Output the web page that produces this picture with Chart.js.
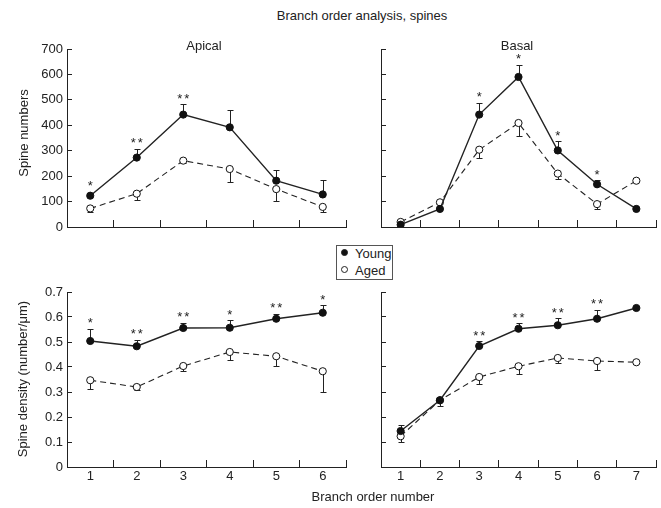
<!DOCTYPE html>
<html>
<head>
<meta charset="utf-8">
<script src="https://cdn.jsdelivr.net/npm/chart.js@4.4.1/dist/chart.umd.min.js"></script>
<style>
    html, body { margin: 0; padding: 0; background: #fff; overflow: hidden; }
    #page { position: relative; width: 661px; height: 508px; font-family: "Liberation Sans", Arial, sans-serif; color: #222; }
    #page canvas { position: absolute; }
    .lbl { position: absolute; font-size: 13px; line-height: 1; white-space: nowrap; transform: translate(-50%, -50%); }
    .rot { transform: translate(-50%, -50%) rotate(-90deg); }
    #legend { position: absolute; left: 336px; top: 245px; width: 55px; height: 33px; border: 1px solid #555; background: #fff; font-size: 13px; }
    #legend .item { position: absolute; left: 18px; line-height: 1; }
    #legend .dot { position: absolute; left: 4px; width: 5px; height: 5px; border: 1px solid #222; border-radius: 50%; }
</style>
</head>
<body>
<div id="page">
    <canvas id="apicalNum" width="352" height="197" style="left:0;top:40px"></canvas>
    <canvas id="basalNum" width="347" height="197" style="left:314px;top:40px"></canvas>
    <canvas id="apicalDen" width="352" height="205" style="left:0;top:283px"></canvas>
    <canvas id="basalDen" width="347" height="205" style="left:314px;top:283px"></canvas>

    <div class="lbl" style="left:362px;top:15px">Branch order analysis, spines</div>
    <div class="lbl" style="left:204px;top:45px">Apical</div>
    <div class="lbl" style="left:517px;top:45px">Basal</div>
    <div class="lbl rot" style="left:23px;top:133px">Spine numbers</div>
    <div class="lbl rot" style="left:22px;top:379px">Spine density (number/μm)</div>
    <div class="lbl" style="left:373px;top:496px">Branch order number</div>

    <div id="legend">
        <span class="dot" style="top:3px;background:#111"></span>
        <div class="item" style="top:1px">Young</div>
        <span class="dot" style="top:20px;background:#fff"></span>
        <div class="item" style="top:18px">Aged</div>
    </div>
</div>

<script>
// categories (branch order)
const apicalOrders = ['1', '2', '3', '4', '5', '6'];
const basalOrders = ['1', '2', '3', '4', '5', '6', '7'];

// y tick values / labels
const numberTickValues = [0, 100, 200, 300, 400, 500, 600, 700];
const numberTickLabels = ['0', '100', '200', '300', '400', '500', '600', '700'];
const densityTickValues = [0, 0.1, 0.2, 0.3, 0.4, 0.5, 0.6, 0.7];
const densityTickLabels = ['0', '0.1', '0.2', '0.3', '0.4', '0.5', '0.6', '0.7'];

// spine numbers, apical
const apicalNumYoung = [123, 273, 442, 392, 182, 128];
const apicalNumYoungErr = [12, 35, 40, 68, 43, 58];
const apicalNumAged = [73, 131, 261, 228, 149, 79];
const apicalNumAgedErr = [13, 26, 11, 52, 48, 21];
const apicalNumStars = ['*', '**', '**', '', '', ''];

// spine numbers, basal
const basalNumYoung = [9, 71, 442, 590, 301, 168, 71];
const basalNumYoungErr = [0, 0, 46, 48, 36, 15, 0];
const basalNumAged = [20, 97, 304, 409, 210, 90, 182];
const basalNumAgedErr = [0, 0, 33, 50, 20, 19, 0];
const basalNumStars = ['', '', '*', '*', '*', '*', ''];

// spine density, apical
const apicalDenYoung = [0.504, 0.483, 0.556, 0.557, 0.593, 0.617];
const apicalDenYoungErr = [0.049, 0.026, 0.021, 0.030, 0.020, 0.030];
const apicalDenAged = [0.347, 0.320, 0.404, 0.460, 0.443, 0.383];
const apicalDenAgedErr = [0.036, 0.011, 0.021, 0.033, 0.039, 0.083];
const apicalDenStars = ['*', '**', '**', '*', '**', '*'];

// spine density, basal
const basalDenYoung = [0.144, 0.267, 0.484, 0.553, 0.567, 0.593, 0.636];
const basalDenYoungErr = [0.025, 0, 0.020, 0.023, 0.029, 0.036, 0];
const basalDenAged = [0.123, 0.267, 0.360, 0.403, 0.436, 0.424, 0.419];
const basalDenAgedErr = [0.024, 0.024, 0.027, 0.032, 0.020, 0.035, 0];
const basalDenStars = ['', '', '**', '**', '**', '**', ''];

const FONT = '"Liberation Sans", Arial, sans-serif';
const INK = '#222';

// error bars under the points, significance stars above the Young bars
const errorBarPlugin = {
    id: 'errorBars',
    beforeDatasetsDraw(chart) {
        const ctx = chart.ctx;
        const yScale = chart.scales.y;
        chart.data.datasets.forEach((ds, i) => {
            const meta = chart.getDatasetMeta(i);
            ctx.save();
            ctx.strokeStyle = INK;
            ctx.lineWidth = 1;
            meta.data.forEach((pt, j) => {
                const e = ds.errors[j];
                if (!e) return;
                const x = Math.round(pt.x) + 0.5;
                const yEnd = Math.round(yScale.getPixelForValue(ds.data[j] + ds.errorSign * e)) + 0.5;
                ctx.beginPath();
                ctx.moveTo(x, pt.y);
                ctx.lineTo(x, yEnd);
                ctx.moveTo(x - 3, yEnd);
                ctx.lineTo(x + 3, yEnd);
                ctx.stroke();
            });
            ctx.restore();
        });
    },
    afterDatasetsDraw(chart, args, opts) {
        const stars = opts.stars || [];
        const ds = chart.data.datasets[0];
        const meta = chart.getDatasetMeta(0);
        const yScale = chart.scales.y;
        const ctx = chart.ctx;
        ctx.save();
        ctx.fillStyle = INK;
        ctx.font = '13px ' + FONT;
        ctx.textAlign = 'center';
        ctx.textBaseline = 'alphabetic';
        stars.forEach((s, j) => {
            if (!s) return;
            const top = yScale.getPixelForValue(ds.data[j] + (ds.errors[j] || 0));
            const x = meta.data[j].x;
            const y = Math.min(top, meta.data[j].y - 4) - 1.5;
            if (s.length === 1) {
                ctx.fillText('*', x, y);
            } else {
                ctx.fillText('*', x - 3.5, y);
                ctx.fillText('*', x + 3.5, y);
            }
        });
        ctx.restore();
    }
};

function buildPanel(id, labels, young, youngErr, aged, agedErr, stars, tickValues, tickLabels, showY, showX, xHeight, padRight) {
    const ctx = document.getElementById(id).getContext('2d');
    return new Chart(ctx, {
        type: 'line',
        data: {
            labels: labels,
            datasets: [{
                label: 'Young',
                data: young,
                errors: youngErr,
                errorSign: 1,
                borderColor: INK,
                borderWidth: 1.4,
                pointRadius: 3.6,
                pointBackgroundColor: '#111',
                pointBorderColor: '#111',
                pointBorderWidth: 1,
                tension: 0
            }, {
                label: 'Aged',
                data: aged,
                errors: agedErr,
                errorSign: -1,
                borderColor: INK,
                borderWidth: 1.1,
                borderDash: [6, 4],
                pointRadius: 3.6,
                pointBackgroundColor: '#fff',
                pointBorderColor: '#111',
                pointBorderWidth: 1,
                tension: 0
            }]
        },
        options: {
            responsive: false,
            animation: false,
            devicePixelRatio: 1,
            layout: { padding: { left: 0, top: 9, right: padRight, bottom: 0 } },
            plugins: {
                legend: { display: false },
                tooltip: { enabled: false },
                errorBars: { stars: stars }
            },
            scales: {
                x: {
                    type: 'category',
                    offset: true,
                    afterFit(axis) {
                        axis.height = xHeight;
                        axis.paddingLeft = 0;
                        axis.paddingRight = 0;
                    },
                    grid: { offset: true, drawOnChartArea: false, tickLength: -7, color: INK },
                    border: { color: INK, width: 1 },
                    ticks: { display: showX, padding: 9, color: INK, font: { family: FONT, size: 13 } }
                },
                y: {
                    min: tickValues[0],
                    max: tickValues[tickValues.length - 1],
                    afterFit(axis) {
                        // fixed axis box, no extra room for the tick labels
                        axis.width = 67;
                        axis.paddingTop = 0;
                        axis.paddingBottom = 0;
                    },
                    afterBuildTicks(axis) { axis.ticks = tickValues.map(v => ({ value: v })); },
                    grid: { drawOnChartArea: false, tickLength: -5, color: INK },
                    border: { color: INK, width: 1 },
                    ticks: {
                        display: showY,
                        padding: 9,
                        color: INK,
                        font: { family: FONT, size: 13 },
                        callback: (v, i) => tickLabels[i]
                    }
                }
            }
        },
        plugins: [errorBarPlugin]
    });
}

buildPanel('apicalNum', apicalOrders, apicalNumYoung, apicalNumYoungErr, apicalNumAged, apicalNumAgedErr,
    apicalNumStars, numberTickValues, numberTickLabels, true, false, 10, 6);
buildPanel('basalNum', basalOrders, basalNumYoung, basalNumYoungErr, basalNumAged, basalNumAgedErr,
    basalNumStars, numberTickValues, numberTickLabels, false, false, 10, 1);
buildPanel('apicalDen', apicalOrders, apicalDenYoung, apicalDenYoungErr, apicalDenAged, apicalDenAgedErr,
    apicalDenStars, densityTickValues, densityTickLabels, true, true, 21, 6);
buildPanel('basalDen', basalOrders, basalDenYoung, basalDenYoungErr, basalDenAged, basalDenAgedErr,
    basalDenStars, densityTickValues, densityTickLabels, false, true, 21, 1);
</script>
</body>
</html>
